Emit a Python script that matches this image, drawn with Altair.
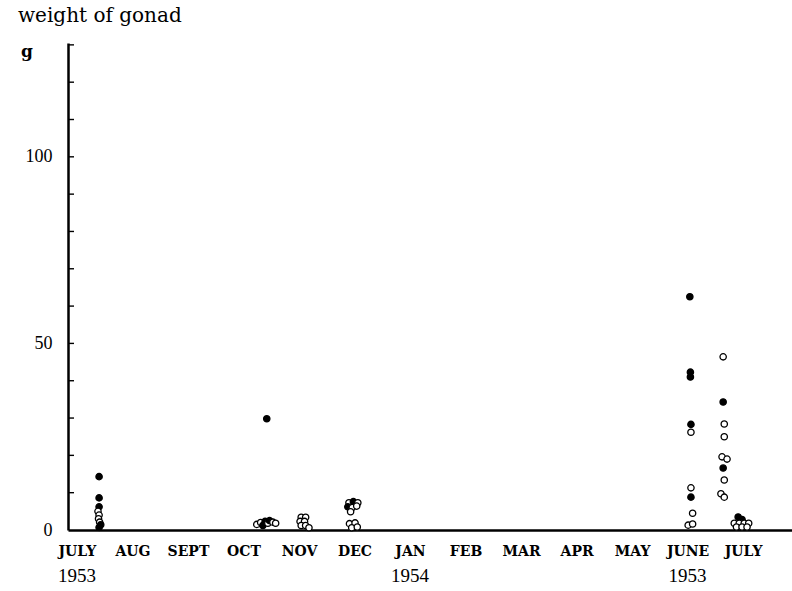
import altair as alt
import pandas as pd

# Month slots: 0 = July 1953 ... 12 = July 1954 (the 1954 June/July columns hold 1953 samples)
month_labels = ["JULY", "AUG", "SEPT", "OCT", "NOV", "DEC", "JAN",
                "FEB", "MAR", "APR", "MAY", "JUNE", "JULY"]
year_pos = [0, 6, 11]
year_text = ["1953", "1954", "1953"]

# Individual gonad weights (g); position in fractional months, filled = solid dot
month_pos = [
    # July 1953
    0.40, 0.40, 0.40, 0.38, 0.40, 0.39, 0.41, 0.43, 0.40,
    # October
    3.42, 3.24, 3.31, 3.35, 3.39, 3.44, 3.47, 3.53, 3.58,
    # November
    4.04, 4.12, 4.02, 4.10, 4.04, 4.12, 4.18,
    # December
    4.90, 4.98, 5.06, 4.88, 4.96, 5.04, 4.93, 4.91, 5.01, 4.95, 5.05,
    # June
    11.04, 11.05, 11.05, 11.06, 11.06, 11.06, 11.06, 11.09, 11.01, 11.09,
    # July
    11.64, 11.64, 11.66, 11.66, 11.62, 11.71, 11.64, 11.66, 11.60, 11.66,
    11.91, 11.98, 11.84, 11.93, 12.02, 12.10, 11.88, 11.98, 12.07,
]
weight = [
    14.3, 8.6, 6.2, 5.0, 4.0, 3.0, 2.1, 1.4, 0.7,
    29.8, 1.5, 2.0, 1.2, 2.3, 1.8, 2.5, 2.1, 1.8,
    3.4, 3.4, 2.3, 2.3, 1.2, 1.2, 0.6,
    7.3, 7.6, 7.3, 6.2, 6.0, 6.4, 4.9, 1.7, 1.9, 0.6, 0.8,
    62.5, 42.3, 41.0, 28.3, 26.2, 11.3, 8.8, 4.5, 1.3, 1.6,
    46.4, 34.3, 28.4, 25.0, 19.6, 19.0, 16.6, 13.4, 9.7, 8.8,
    3.5, 2.8, 1.8, 1.8, 1.8, 1.8, 0.8, 0.8, 0.8,
]
filled = [
    1, 1, 1, 0, 0, 0, 0, 1, 1,
    1, 0, 0, 1, 1, 0, 1, 0, 0,
    0, 0, 0, 0, 0, 0, 0,
    0, 1, 0, 1, 0, 0, 0, 0, 0, 0, 0,
    1, 1, 1, 1, 0, 0, 1, 0, 0, 0,
    0, 1, 0, 0, 0, 0, 1, 0, 0, 0,
    1, 1, 0, 0, 0, 0, 0, 0, 0,
]
y_ticks = [10, 20, 30, 40, 50, 60, 70, 80, 90, 100, 110, 120, 130]

W, H = 724, 487
SERIF = "Liberation Serif"
WIDE_SERIF = "DejaVu Serif"

pts = pd.DataFrame({
    "m": month_pos,
    "w": weight,
    "kind": ["filled" if f else "open" for f in filled],
})

x_scale = alt.Scale(domain=[-0.16, 12.88], nice=False, zero=False)
y_scale = alt.Scale(domain=[0, 130.5], nice=False)

label_expr = "[" + ",".join(f"'{m}'" for m in month_labels) + "][datum.value]"

points = alt.Chart(pts).mark_point(
    shape="circle", size=40, strokeWidth=1.3, opacity=1
).encode(
    x=alt.X("m:Q", scale=x_scale, title=None,
            axis=alt.Axis(values=list(range(13)), labelExpr=label_expr,
                          ticks=False, grid=False, labelPadding=14,
                          labelFont=WIDE_SERIF, labelFontSize=14, labelFontWeight="bold",
                          labelColor="black", domainColor="black", domainWidth=2.5,
                          labelFlush=False, labelOverlap=False)),
    y=alt.Y("w:Q", scale=y_scale, title=None,
            axis=alt.Axis(values=[0, 50, 100], ticks=False, grid=False,
                          labelPadding=16, labelFont=SERIF, labelFontSize=18,
                          labelColor="black", domainColor="black", domainWidth=2.5)),
    fill=alt.Fill("kind:N", scale=alt.Scale(domain=["filled", "open"],
                                            range=["black", "white"]), legend=None),
    color=alt.value("black"),
)

ticks = alt.Chart(pd.DataFrame({"v": y_ticks})).mark_rule(
    color="black", strokeWidth=1.4
).encode(y=alt.Y("v:Q", scale=y_scale), x=alt.value(0), x2=alt.value(6))

years = alt.Chart(pd.DataFrame({"m": year_pos, "t": year_text})).mark_text(
    font=SERIF, fontSize=19, color="black", baseline="middle"
).encode(x=alt.X("m:Q", scale=x_scale), y=alt.value(H + 46), text="t:N")

title = alt.Chart(pd.DataFrame({"t": ["weight of gonad"]})).mark_text(
    font=WIDE_SERIF, fontSize=20, color="black", align="left", baseline="alphabetic"
).encode(x=alt.value(-50), y=alt.value(-21), text="t:N")

unit = alt.Chart(pd.DataFrame({"t": ["g"]})).mark_text(
    font=WIDE_SERIF, fontSize=17, fontWeight="bold", color="black",
    align="left", baseline="alphabetic"
).encode(x=alt.value(-47), y=alt.value(14), text="t:N")

chart = alt.layer(ticks, points, years, title, unit).properties(
    width=W, height=H,
    padding={"left": 68, "top": 43, "right": 0, "bottom": 61},
    autosize=alt.AutoSizeParams(type="none"),
    background="white",
).configure_view(stroke=None)

chart.save("out.html", embed_options={"renderer": "svg", "actions": False})
